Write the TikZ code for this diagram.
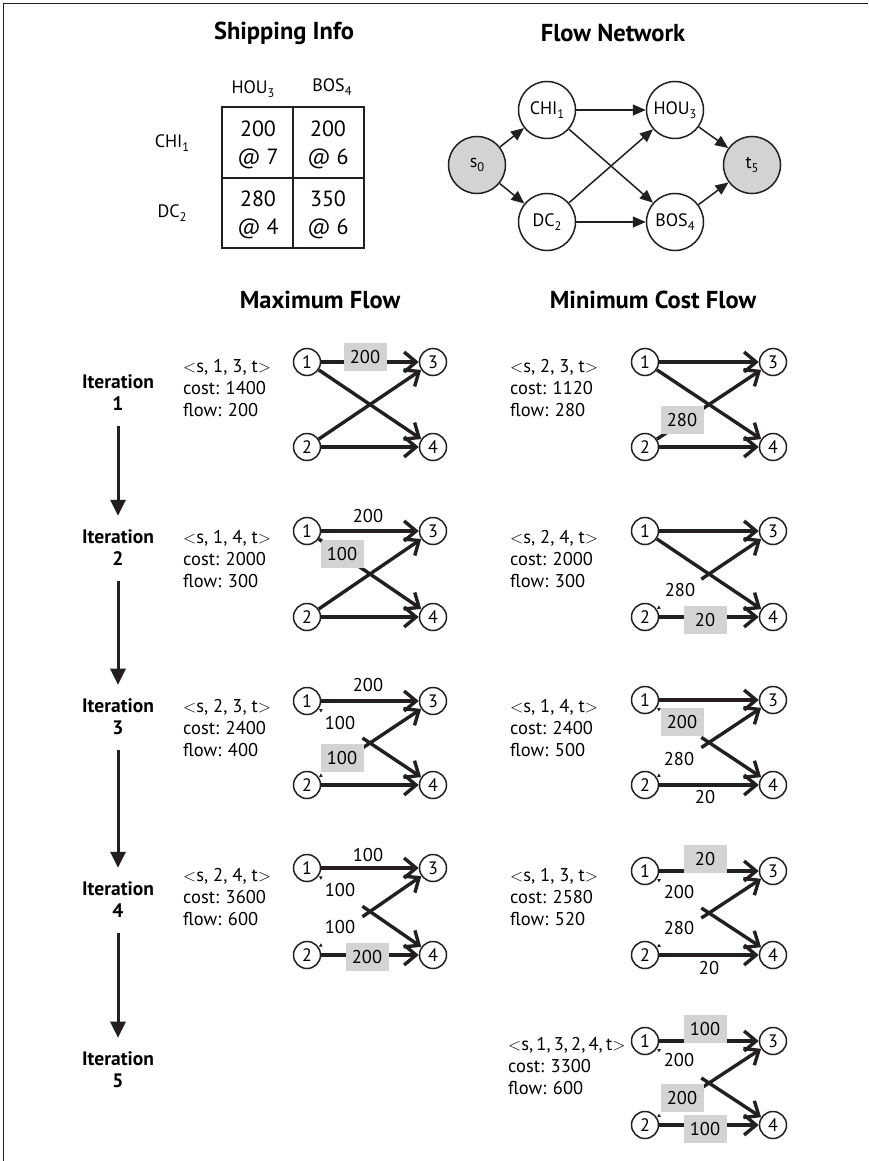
\documentclass[tikz,border=0pt]{standalone}
\usepackage{fontspec}
\setmainfont{PT Sans}
\usetikzlibrary{arrows.meta,calc}
\definecolor{boxgray}{HTML}{D3D3D3}
\definecolor{ink}{HTML}{231F20}
\newcommand\sbs[1]{\raisebox{-0.45ex}{\fontsize{12.5}{12.5}\selectfont #1}}
\newcommand\bodyf{\fontsize{18.5}{22}\selectfont}
\newcommand\ltx{{\fontsize{16.5}{16.5}\selectfont$<$}}
\newcommand\gtx{{\fontsize{16.5}{16.5}\selectfont$>$}}
\newcommand\mkpanel[5]{%
  \node[sn] (#1a) at (#2,#4) {1};
  \node[sn] (#1c) at (#3,#4) {3};
  \node[sn] (#1b) at (#2,#5) {2};
  \node[sn] (#1d) at (#3,#5) {4};
}
\begin{document}
\begin{tikzpicture}[x=1pt,y=-1pt,
  title/.style={font=\fontsize{24.5}{28}\selectfont\bfseries},
  txt/.style={anchor=west, inner sep=0, align=left, font=\bodyf},
  sn/.style={circle, draw=ink, line width=1.5pt, minimum size=27pt, inner sep=0, font=\fontsize{18}{18}\selectfont, fill=white},
  bn/.style={circle, draw=ink, line width=1.5pt, minimum size=57pt, inner sep=0, font=\fontsize{18}{18}\selectfont, fill=white},
  src/.style={bn, fill=boxgray},
  fe/.style={draw=ink, line width=3.4pt, -{Straight Barb[length=12pt,width=20pt]}},
  ne/.style={draw=ink, line width=1.5pt, -{Triangle[length=13pt,width=11pt]}},
  itl/.style={font=\fontsize{19.5}{22}\selectfont\bfseries, align=center, inner sep=0},
  itar/.style={draw=ink, line width=3pt, -{Triangle[length=16pt,width=15pt]}, shorten <=15pt, shorten >=14pt},
  bt/.style={draw=ink, line width=0.9pt, -{Latex[length=3.5pt,width=4pt]}},
  gbox/.style={fill=boxgray, minimum width=43pt, minimum height=28pt, inner sep=0, font=\bodyf},
  plbl/.style={inner sep=0, font=\bodyf},
  cell/.style={align=center, inner sep=0, font=\fontsize{22}{28}\selectfont},
  hdr/.style={inner sep=0, font=\fontsize{18}{18}\selectfont}
]
\useasboundingbox (0,0) rectangle (868,1161);
\fill[white] (0,0) rectangle (868,1161);
\draw[ink, line width=0.8pt] (3,1161) -- (3,3) -- (868,3);

% titles
\node[title] (t1) at (284,33) {Shipping Info};
\node[title] (t2) at (613,33) {Flow Network};
\node[title] (t3) at (320,300) {Maximum Flow};
\node[title] (t4) at (653,300) {Minimum Cost Flow};

% table
\draw[ink, line width=2.5pt] (222,107) rectangle (364,248);
\draw[ink, line width=2.5pt] (293,107) -- (293,248);
\draw[ink, line width=2.5pt] (222,178) -- (364,178);
\node[hdr] (h1) at (253,89) {HOU\sbs{3}};
\node[hdr] (h2) at (332,87) {BOS\sbs{4}};
\node[hdr] (r1) at (172,143) {CHI\sbs{1}};
\node[hdr] (r2) at (172,213) {DC\sbs{2}};
\node[cell] (c11) at (258,145) {200\\@ 7};
\node[cell] (c12) at (328,145) {200\\@ 6};
\node[cell] (c21) at (258,215) {280\\@ 4};
\node[cell] (c22) at (328,215) {350\\@ 6};

% flow network
\node[src] (s0) at (477,165) {s\sbs{0}};
\node[bn] (chi) at (547,110) {CHI\sbs{1}};
\node[bn] (dc) at (547,222) {DC\sbs{2}};
\node[bn] (hou) at (675,110) {HOU\sbs{3}};
\node[bn] (bos) at (675,222) {BOS\sbs{4}};
\node[src] (t5) at (752,165) {t\sbs{5}};
\draw[ne] (s0) -- (chi);
\draw[ne] (s0) -- (dc);
\draw[ne] (chi) -- (hou);
\draw[ne] (chi) -- (bos);
\draw[ne] (dc) -- (hou);
\draw[ne] (dc) -- (bos);
\draw[ne] (hou) -- (t5);
\draw[ne] (bos) -- (t5);

% iteration labels
\node[itl] (it1) at (118,393) {Iteration\\1};
\node[itl] (it2) at (118,548) {Iteration\\2};
\node[itl] (it3) at (118,717) {Iteration\\3};
\node[itl] (it4) at (118,900) {Iteration\\4};
\node[itl] (it5) at (118,1070) {Iteration\\5};
\draw[itar] (it1) -- (it2);
\draw[itar] (it2) -- (it3);
\draw[itar] (it3) -- (it4);
\draw[itar] (it4) -- (it5);

% ---------- Max flow iteration 1
\node[txt] (m1t) at (183,388) {\ltx s, 1, 3, t\gtx\\cost: 1400\\flow: 200};
\mkpanel{p1}{307}{433}{362}{447}
\draw[fe] (p1a) -- (p1c);
\draw[fe] (p1a) -- (p1d);
\draw[fe] (p1b) -- (p1c);
\draw[fe] (p1b) -- (p1d);
\node[gbox] (p1l1) at (365,357) {200};

% ---------- Max flow iteration 2
\node[txt] (m2t) at (183,559) {\ltx s, 1, 4, t\gtx\\cost: 2000\\flow: 300};
\mkpanel{p2}{307}{433}{531}{617}
\draw[fe] (p2a) -- (p2c);
\draw[fe] (p2a) -- (p2d);
\draw[fe] (p2b) -- (p2c);
\draw[fe] (p2b) -- (p2d);
\node[plbl] (p2l1) at (368,516) {200};
\node[gbox] (p2l2) at (342,554) {100};
\draw[bt] ($(p2a)!18pt!(p2d)$) -- (p2a);

% ---------- Max flow iteration 3
\node[txt] (m3t) at (183,728) {\ltx s, 2, 3, t\gtx\\cost: 2400\\flow: 400};
\mkpanel{p3}{307}{433}{701}{785}
\draw[fe] (p3a) -- (p3c);
\draw[fe] ($(p3a)!0.44!(p3d)$) -- (p3d);
\draw[fe] ($(p3b)!0.44!(p3c)$) -- (p3c);
\draw[fe] (p3b) -- (p3d);
\node[plbl] (p3l1) at (368,685) {200};
\node[plbl] (p3l2) at (340,723) {100};
\node[gbox] (p3l3) at (342,758) {100};
\draw[bt] ($(p3a)!18pt!(p3d)$) -- (p3a);
\draw[bt] ($(p3b)!18pt!(p3c)$) -- (p3b);

% ---------- Max flow iteration 4
\node[txt] (m4t) at (183,897) {\ltx s, 2, 4, t\gtx\\cost: 3600\\flow: 600};
\mkpanel{p4}{307}{433}{868}{955}
\draw[fe] (p4a) -- (p4c);
\draw[fe] ($(p4a)!0.44!(p4d)$) -- (p4d);
\draw[fe] ($(p4b)!0.44!(p4c)$) -- (p4c);
\draw[fe] (p4b) -- (p4d);
\node[plbl] (p4l1) at (368,855) {100};
\node[plbl] (p4l2) at (340,890) {100};
\node[plbl] (p4l3) at (340,927) {100};
\node[gbox] (p4l4) at (367,957) {200};
\draw[bt] ($(p4a)!18pt!(p4d)$) -- (p4a);
\draw[bt] ($(p4b)!18pt!(p4c)$) -- (p4b);

% ---------- Min cost iteration 1
\node[txt] (n1t) at (510,388) {\ltx s, 2, 3, t\gtx\\cost: 1120\\flow: 280};
\mkpanel{q1}{645}{773}{362}{447}
\draw[fe] (q1a) -- (q1c);
\draw[fe] (q1a) -- (q1d);
\draw[fe] (q1b) -- (q1c);
\draw[fe] (q1b) -- (q1d);
\node[gbox] (q1l1) at (682,420) {280};
\draw[bt] ($(q1b)!18pt!(q1c)$) -- (q1b);

% ---------- Min cost iteration 2
\node[txt] (n2t) at (510,559) {\ltx s, 2, 4, t\gtx\\cost: 2000\\flow: 300};
\mkpanel{q2}{645}{773}{531}{617}
\draw[fe] (q2a) -- (q2c);
\draw[fe] (q2a) -- (q2d);
\draw[fe] ($(q2b)!0.44!(q2c)$) -- (q2c);
\draw[fe] (q2b) -- (q2d);
\node[plbl] (q2l1) at (680,590) {280};
\node[gbox] (q2l2) at (705,620) {20};
\draw[bt] ($(q2b)!18pt!(q2c)$) -- (q2b);

% ---------- Min cost iteration 3
\node[txt] (n3t) at (510,728) {\ltx s, 1, 4, t\gtx\\cost: 2400\\flow: 500};
\mkpanel{q3}{645}{773}{700}{785}
\draw[fe] (q3a) -- (q3c);
\draw[fe] ($(q3a)!0.44!(q3d)$) -- (q3d);
\draw[fe] ($(q3b)!0.44!(q3c)$) -- (q3c);
\draw[fe] (q3b) -- (q3d);
\node[gbox] (q3l1) at (682,722) {200};
\node[plbl] (q3l2) at (679,759) {280};
\node[plbl] (q3l3) at (705,797) {20};
\draw[bt] ($(q3a)!18pt!(q3d)$) -- (q3a);
\draw[bt] ($(q3b)!18pt!(q3c)$) -- (q3b);

% ---------- Min cost iteration 4
\node[txt] (n4t) at (510,897) {\ltx s, 1, 3, t\gtx\\cost: 2580\\flow: 520};
\mkpanel{q4}{645}{773}{871}{955}
\draw[fe] (q4a) -- (q4c);
\draw[fe] ($(q4a)!0.44!(q4d)$) -- (q4d);
\draw[fe] ($(q4b)!0.44!(q4c)$) -- (q4c);
\draw[fe] (q4b) -- (q4d);
\node[gbox] (q4l1) at (705,859) {20};
\node[plbl] (q4l2) at (679,892) {200};
\node[plbl] (q4l3) at (679,928) {280};
\node[plbl] (q4l4) at (709,968) {20};
\draw[bt] ($(q4a)!18pt!(q4d)$) -- (q4a);
\draw[bt] ($(q4b)!18pt!(q4c)$) -- (q4b);

% ---------- Min cost iteration 5
\node[txt] (n5t) at (508,1066) {{\spaceskip=0.17em\relax\ltx s, 1, 3, 2, 4, t\gtx}\\cost: 3300\\flow: 600};
\mkpanel{q5}{645}{773}{1041}{1125}
\draw[fe] (q5a) -- (q5c);
\draw[fe] ($(q5a)!0.44!(q5d)$) -- (q5d);
\draw[fe] ($(q5b)!0.44!(q5c)$) -- (q5c);
\draw[fe] (q5b) -- (q5d);
\node[gbox] (q5l1) at (705,1029) {100};
\node[plbl] (q5l2) at (679,1060) {200};
\node[gbox] (q5l3) at (682,1098) {200};
\node[gbox] (q5l4) at (705,1129) {100};
\draw[bt] ($(q5a)!18pt!(q5d)$) -- (q5a);
\draw[bt] ($(q5b)!18pt!(q5c)$) -- (q5b);
\end{tikzpicture}
\end{document}
